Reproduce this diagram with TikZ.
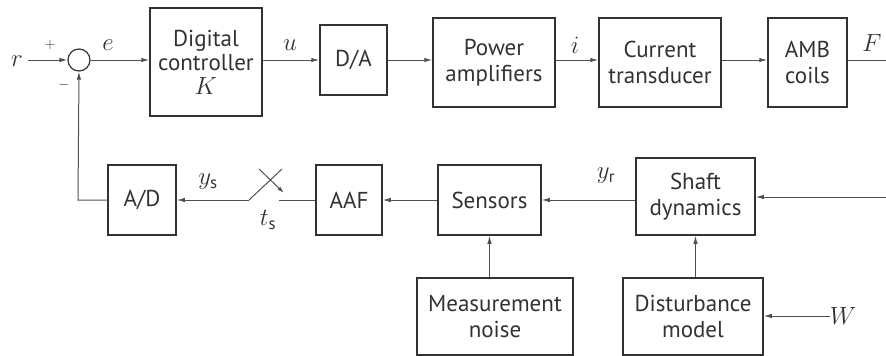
\documentclass[tikz,border=0pt]{standalone}
\usepackage{fontspec}
\setmainfont{PT Sans}
\usetikzlibrary{arrows.meta}
\definecolor{boxc}{RGB}{50,50,50}
\definecolor{linec}{RGB}{80,80,80}
\newcommand\fsz{\fontsize{23}{26.5}\selectfont}
\tikzset{
  blk/.style={draw=boxc, line width=1.5pt, inner sep=0pt, align=center, font=\fsz, text=boxc},
  conn/.style={draw=linec, line width=1pt, -{Latex[length=8pt,width=4.5pt]}},
  plain/.style={draw=linec, line width=1pt},
  lbl/.style={inner sep=0pt, font=\fontsize{24}{26}\selectfont, text=boxc},
}
\begin{document}
\begin{tikzpicture}[x=1pt,y=-1pt]
\useasboundingbox (0,0) rectangle (886,356);
% top row
\node[draw=boxc, line width=1.2pt, circle, minimum size=22pt, inner sep=0pt] (sum) at (79,60) {};
\node[blk, minimum width=112pt, minimum height=108pt, font=\fontsize{23}{24}\selectfont] (dc) at (206,62) {Digital\\controller\\$K$};
\node[blk, minimum width=67pt, minimum height=70pt] (da) at (353.5,60) {D/A};
\node[blk, minimum width=122pt, minimum height=89pt] (pa) at (494,62.5) {Power\\amplifiers};
\node[blk, minimum width=122pt, minimum height=89pt] (ct) at (660,62.5) {Current\\transducer};
\node[blk, minimum width=79pt, minimum height=89pt] (amb) at (807.5,62.5) {AMB\\coils};
% bottom row
\node[blk, minimum width=68pt, minimum height=70pt] (ad) at (142,200) {A/D};
\node[blk, minimum width=66pt, minimum height=70pt] (aaf) at (349,200) {AAF};
\node[blk, minimum width=103pt, minimum height=70pt] (sens) at (489.5,200) {Sensors};
\node[blk, minimum width=119pt, minimum height=77pt] (shaft) at (695.5,196.5) {Shaft\\dynamics};
\node[blk, minimum width=156pt, minimum height=77pt] (mn) at (495,316.5) {Measurement\\noise};
\node[blk, minimum width=140pt, minimum height=77pt] (dm) at (693,316.5) {Disturbance\\model};
% labels
\node[lbl] (r) at (17,61) {$r$};
\node[lbl, font=\fontsize{15}{16}\selectfont] (plus) at (50,45) {$+$};
\node[lbl, font=\fontsize{15}{16}\selectfont] (minus) at (64,85) {$-$};
\node[lbl] (e) at (108,45) {$e$};
\node[lbl] (u) at (290,45) {$u$};
\node[lbl] (i) at (575,45) {$i$};
\node[lbl] (F) at (872,43) {$F$};
\node[lbl] (yr) at (606,176) {$y_{\mathrm{r}}$};
\node[lbl] (ys) at (208,182) {$y_{\mathrm{s}}$};
\node[lbl] (ts) at (268,220) {$t_{\mathrm{s}}$};
\node[lbl] (W) at (843,316) {$W$};
% coordinates
\coordinate (rin) at (28,60);
\coordinate (fout) at (886,60);
\coordinate (shin) at (886,197);
\coordinate (win) at (830,316);
\coordinate (fbc) at (78,200);
\coordinate (swl) at (249,200);
\coordinate (swarm) at (282,169);
\coordinate (swr) at (279,200);
\coordinate (swa1) at (259,169);
\coordinate (swa2) at (284,193);
% connectors top
\draw[conn] (rin) -- (sum.west);
\draw[conn] (sum.east) -- (dc.west |- sum.east);
\draw[conn] (dc.east |- da.west) -- (da.west);
\draw[conn] (da.east) -- (pa.west |- da.east);
\draw[conn] (pa.east |- da.east) -- (ct.west |- da.east);
\draw[conn] (ct.east |- da.east) -- (amb.west |- da.east);
\draw[plain] (amb.east |- da.east) -- (fout);
% bottom
\draw[conn] (shin) -- (shin -| shaft.east);
\draw[conn] (shaft.west |- sens.east) -- (sens.east);
\draw[conn] (sens.west) -- (aaf.east);
\draw[plain] (aaf.west) -- (swr);
\draw[plain] (swarm) -- (swl);
\draw[conn] (swl) -- (ad.east);
\draw[conn, -{Latex[length=7pt,width=4pt]}] (swa1) -- (swa2);
\draw[conn] (ad.west) -- (fbc) -- (sum.south);
\draw[conn] (mn.north -| sens.south) -- (sens.south);
\draw[conn] (dm.north -| shaft.south) -- (shaft.south);
\draw[conn] (win) -- (win -| dm.east);
\end{tikzpicture}
\end{document}
